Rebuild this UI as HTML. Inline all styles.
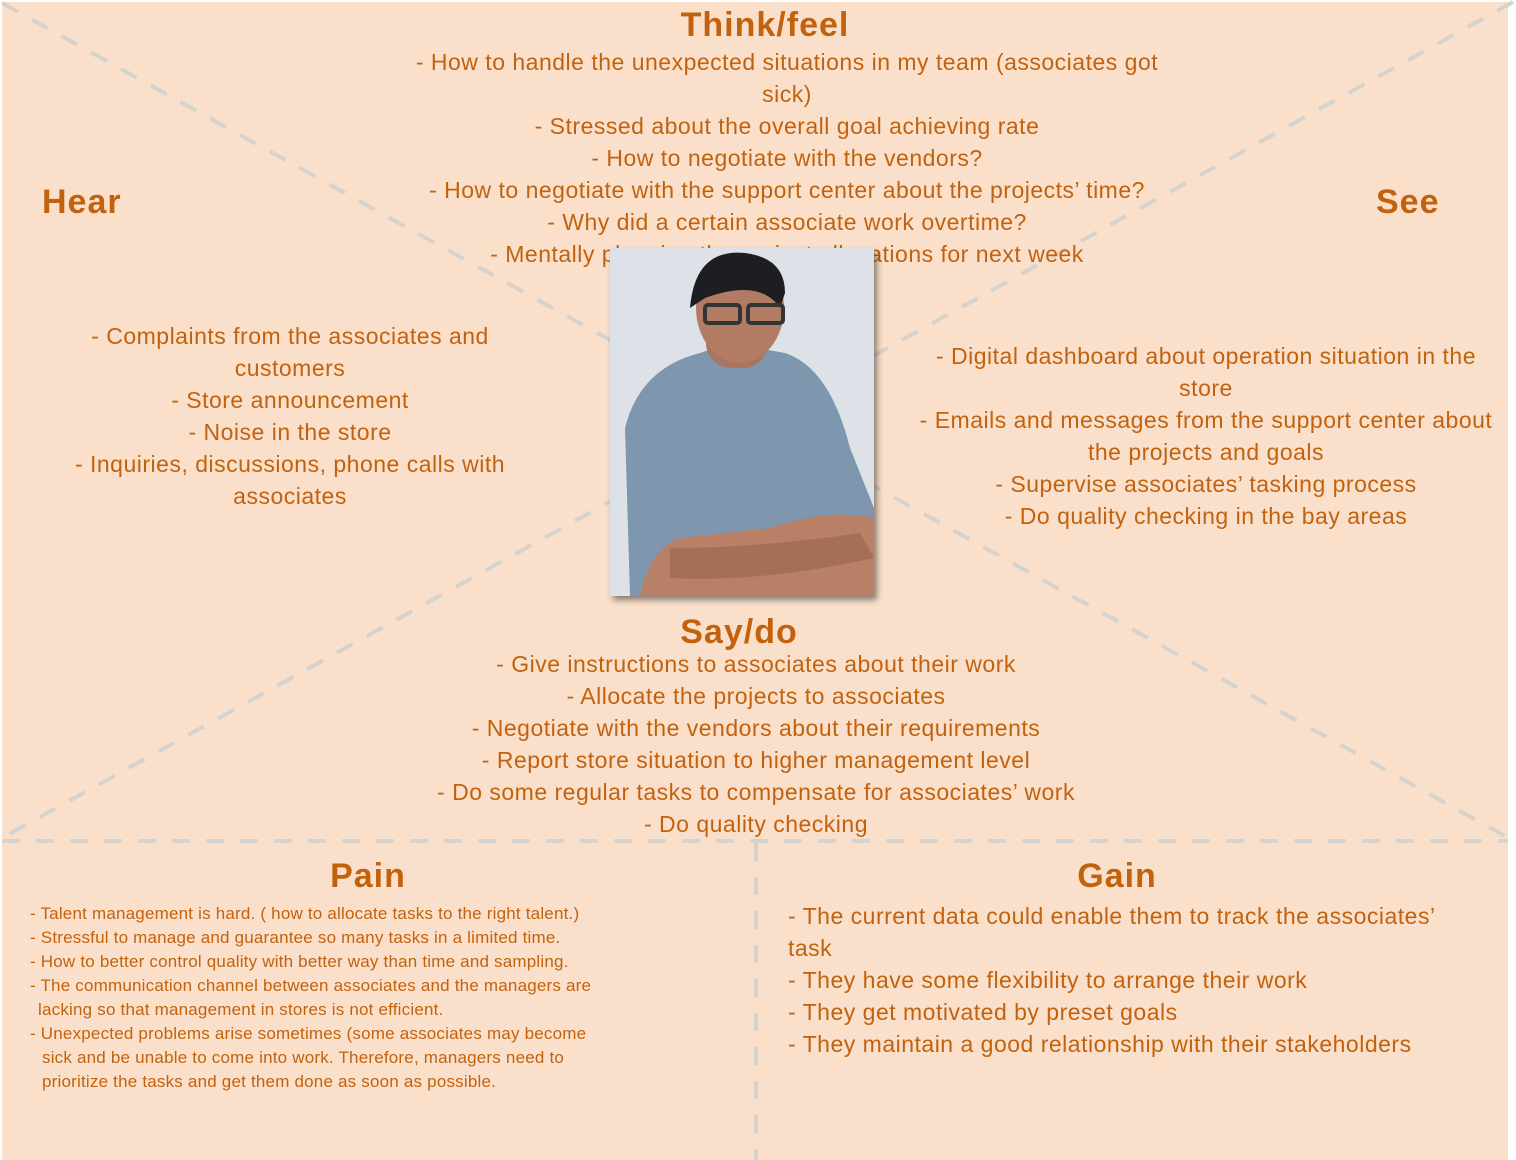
<!DOCTYPE html>
<html><head><meta charset="utf-8"><style>
html,body{margin:0;padding:0;background:#fff;}
#c{position:relative;width:1516px;height:1160px;overflow:hidden;font-family:"Liberation Sans",sans-serif;color:#C2620F;}
.bg{position:absolute;left:2px;top:2px;width:1506px;height:1158px;background:#FAE0CA;}
.l{position:absolute;white-space:nowrap;font-size:23px;letter-spacing:0.5px;line-height:26px;transform:translateX(-50%);}
.t{position:absolute;white-space:nowrap;font-weight:bold;font-size:34px;letter-spacing:1px;line-height:36px;}
.tc{transform:translateX(-50%);}
.g{position:absolute;white-space:nowrap;font-size:23px;letter-spacing:0.5px;line-height:26px;}
.p{position:absolute;white-space:nowrap;font-size:17px;letter-spacing:0.2px;line-height:20px;}
</style></head><body><div id="c">
<div class="bg"></div>
<svg style="position:absolute;left:0;top:0" width="1516" height="1160">
<g stroke="#D6D2CD" stroke-width="4" stroke-dasharray="18,16" fill="none">
<line x1="2" y1="3" x2="1505" y2="836"/>
<line x1="1513" y1="2" x2="2" y2="838"/>
<line x1="2" y1="841" x2="1508" y2="841"/>
<line x1="756" y1="843" x2="756" y2="1160"/>
</g></svg>

<div class="t tc" style="left:765px;top:7px">Think/feel</div>
<div class="l" style="left:787px;top:49px">- How to handle the unexpected situations in my team (associates got</div>
<div class="l" style="left:787px;top:81px">sick)</div>
<div class="l" style="left:787px;top:113px">- Stressed about the overall goal achieving rate</div>
<div class="l" style="left:787px;top:145px">- How to negotiate with the vendors?</div>
<div class="l" style="left:787px;top:177px">- How to negotiate with the support center about the projects’ time?</div>
<div class="l" style="left:787px;top:209px">- Why did a certain associate work overtime?</div>
<div class="l" style="left:787px;top:241px">- Mentally planning the project allocations for next week</div>

<div class="t" style="left:42px;top:184px">Hear</div>
<div class="t" style="left:1376px;top:184px">See</div>

<div class="l" style="left:290px;top:323px">- Complaints from the associates and</div>
<div class="l" style="left:290px;top:355px">customers</div>
<div class="l" style="left:290px;top:387px">- Store announcement</div>
<div class="l" style="left:290px;top:419px">- Noise in the store</div>
<div class="l" style="left:290px;top:451px">- Inquiries, discussions, phone calls with</div>
<div class="l" style="left:290px;top:483px">associates</div>

<div class="l" style="left:1206px;top:343px">- Digital dashboard about operation situation in the</div>
<div class="l" style="left:1206px;top:375px">store</div>
<div class="l" style="left:1206px;top:407px">- Emails and messages from the support center about</div>
<div class="l" style="left:1206px;top:439px">the projects and goals</div>
<div class="l" style="left:1206px;top:471px">- Supervise associates’ tasking process</div>
<div class="l" style="left:1206px;top:503px">- Do quality checking in the bay areas</div>

<svg style="position:absolute;left:610px;top:248px;box-shadow:3px 4px 6px rgba(0,0,0,0.45)" width="264" height="348" viewBox="0 0 264 348">
<rect width="264" height="348" fill="#DDE2E8"/>
<path d="M20 348 L15 180 Q30 120 90 105 L120 95 L175 105 Q220 120 240 200 L264 260 L264 348 Z" fill="#7F97AE"/>
<path d="M30 348 Q40 300 70 290 L160 280 Q220 260 264 270 L264 348 Z" fill="#B88066"/>
<path d="M60 300 Q150 300 250 285 L264 310 Q150 335 60 330 Z" fill="#A56F57"/>
<rect x="96" y="50" width="62" height="70" rx="25" fill="#A97560"/>
<ellipse cx="130" cy="60" rx="44" ry="55" fill="#B27C64"/>
<path d="M80 60 Q85 0 135 5 Q175 10 175 45 L170 60 Q150 30 95 50 Z" fill="#1E1D22"/>
<rect x="95" y="57" width="35" height="18" rx="3" fill="none" stroke="#333" stroke-width="4"/>
<rect x="138" y="57" width="35" height="18" rx="3" fill="none" stroke="#333" stroke-width="4"/>
</svg>

<div class="t tc" style="left:739px;top:614px">Say/do</div>
<div class="l" style="left:756px;top:651px">- Give instructions to associates about their work</div>
<div class="l" style="left:756px;top:683px">- Allocate the projects to associates</div>
<div class="l" style="left:756px;top:715px">- Negotiate with the vendors about their requirements</div>
<div class="l" style="left:756px;top:747px">- Report store situation to higher management level</div>
<div class="l" style="left:756px;top:779px">- Do some regular tasks to compensate for associates’ work</div>
<div class="l" style="left:756px;top:811px">- Do quality checking</div>

<div class="t tc" style="left:368px;top:858px">Pain</div>
<div class="p" style="left:30px;top:904px">- Talent management is hard. ( how to allocate tasks to the right talent.)</div>
<div class="p" style="left:30px;top:928px">- Stressful to manage and guarantee so many tasks in a limited time.</div>
<div class="p" style="left:30px;top:952px">- How to better control quality with better way than time and sampling.</div>
<div class="p" style="left:30px;top:976px">- The communication channel between associates and the managers are</div>
<div class="p" style="left:38px;top:1000px">lacking so that management in stores is not efficient.</div>
<div class="p" style="left:30px;top:1024px">- Unexpected problems arise sometimes (some associates may become</div>
<div class="p" style="left:42px;top:1048px">sick and be unable to come into work. Therefore, managers need to</div>
<div class="p" style="left:42px;top:1072px">prioritize the tasks and get them done as soon as possible.</div>

<div class="t tc" style="left:1117px;top:858px">Gain</div>
<div class="g" style="left:788px;top:903px">- The current data could enable them to track the associates’</div>
<div class="g" style="left:788px;top:935px">task</div>
<div class="g" style="left:788px;top:967px">- They have some flexibility to arrange their work</div>
<div class="g" style="left:788px;top:999px">- They get motivated by preset goals</div>
<div class="g" style="left:788px;top:1031px">- They maintain a good relationship with their stakeholders</div>
</div></body></html>
